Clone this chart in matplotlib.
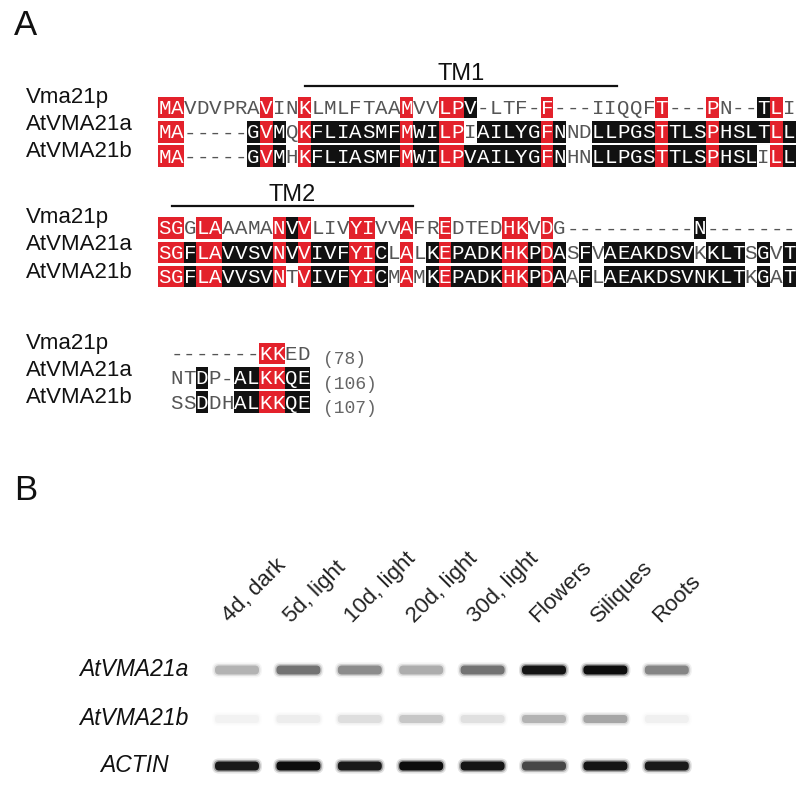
import numpy as np
import matplotlib.pyplot as plt
from matplotlib.patches import Rectangle, FancyBboxPatch

# ---- panel A: alignment data ----
names = ['Vma21p', 'AtVMA21a', 'AtVMA21b']
block1 = ['MAVDVPRAVINKLMLFTAAMVVLPV-LTF-F---IIQQFT---PN--TLI',
          'MA-----GVMQKFLIASMFMWILPIAILYGFNNDLLPGSTTLSPHSLTLL',
          'MA-----GVMHKFLIASMFMWILPVAILYGFNHNLLPGSTTLSPHSLILL']
block2 = ['SGGLAAAMANVVLIVYIVVAFREDTEDHKVDG----------N-------',
          'SGFLAVVSVNVVIVFYICLALKEPADKHKPDASFVAEAKDSVKKLTSGVT',
          'SGFLAVVSVNTVIVFYICMAMKEPADKHKPDAAFLAEAKDSVNKLTKGAT']
block3 = ['-------KKED',
          'NTDP-ALKKQE',
          'SSDDHALKKQE']
lengths = ['(78)', '(106)', '(107)']
tm_labels = ['TM1', 'TM2']
tm_spans = [(11.5, 36.0), (1.1, 20.0)]   # in alignment columns

# ---- panel B: RT-PCR data ----
samples = ['4d, dark', '5d, light', '10d, light', '20d, light',
           '30d, light', 'Flowers', 'Siliques', 'Roots']
genes = ['AtVMA21a', 'AtVMA21b', 'ACTIN']
vma21a = [0.30, 0.55, 0.45, 0.32, 0.55, 0.92, 0.95, 0.48]
vma21b = [0.05, 0.07, 0.13, 0.22, 0.12, 0.30, 0.35, 0.06]
actin = [0.90, 0.95, 0.90, 0.95, 0.92, 0.72, 0.92, 0.90]

RED = '#e3212b'
BLK = '#111111'
mono = 'Liberation Mono'
sans = 'Liberation Sans'

fig = plt.figure(figsize=(8.0, 7.87), dpi=100)
ax = fig.add_axes([0, 0, 1, 1])
ax.set_xlim(0, 800)
ax.set_ylim(787, 0)
ax.axis('off')

colw = 12.75
rowh = 24.3
cellh = 21.5


def draw_block(seqs, x0, y0, lab_y0, tail=None):
    ncol = len(seqs[0])
    for j in range(ncol):
        col = [s[j] for s in seqs]
        for r, c in enumerate(col):
            yc = y0 + r * rowh
            xl = x0 + j * colw
            n = sum(1 for o in col if o == c) if c != '-' else 0
            if n == 3:
                ax.add_patch(Rectangle((xl, yc - cellh / 2), colw, cellh,
                                       facecolor=RED, lw=0))
                tc = 'white'
            elif n == 2:
                ax.add_patch(Rectangle((xl, yc - cellh / 2), colw, cellh,
                                       facecolor=BLK, lw=0))
                tc = 'white'
            else:
                tc = '#555555'
            ax.text(xl + colw / 2, yc + 6.5, c, ha='center', va='baseline',
                    fontsize=15, family=mono, color=tc)
    for r, nm in enumerate(names):
        ax.text(26, lab_y0 + r * 27, nm, ha='left', va='baseline',
                fontsize=16, family=sans, color='#111111')
    if tail is not None:
        for r, t in enumerate(tail):
            ax.text(x0 + ncol * colw + 13, y0 + r * rowh + 11, t,
                    ha='left', va='baseline', fontsize=13, family=mono,
                    color='#666666')


draw_block(block1, 158, 107.5, 103)
draw_block(block2, 158, 228, 223.5)
draw_block(block3, 170, 353.5, 349, tail=lengths)

# transmembrane bars
for lab, (c0, c1), yrow in zip(tm_labels, tm_spans, [107.5, 228]):
    xa, xb = 158 + c0 * colw, 158 + c1 * colw
    ax.plot([xa, xb], [yrow - 22, yrow - 22], color='#111111', lw=1.6)
    ax.text((xa + xb) / 2, yrow - 27, lab, ha='center', va='baseline',
            fontsize=17, family=sans, color='#111111')

ax.text(14, 35, 'A', fontsize=25, family=sans, va='baseline', color='#111111')
ax.text(14, 500, 'B', fontsize=25, family=sans, va='baseline', color='#111111')

# ---- gel ----
lane_x = 237 + 61.4 * np.arange(len(samples))
band_y = [670, 719, 766]
band_h = [9, 8, 9]
for lab, lx in zip(samples, lane_x):
    ax.text(lx - 7, 623, lab, rotation=45, rotation_mode='anchor',
            ha='left', va='baseline', fontsize=16, family=sans,
            color='#222222')

for g, (gname, vals) in enumerate(zip(genes, [vma21a, vma21b, actin])):
    ax.text(134, band_y[g] + 6, gname, ha='center', va='baseline',
            fontsize=16.5, family=sans, style='italic', color='#111111')
    for lx, v in zip(lane_x, vals):
        shade = str(1 - v)
        for grow, alpha in [(6, 0.12), (3, 0.3), (0, 1.0)]:
            w = 44 + grow
            h = band_h[g] + grow
            ax.add_patch(FancyBboxPatch((lx - w / 2, band_y[g] - h / 2), w, h,
                                        boxstyle='round,pad=0,rounding_size=%g' % (h / 2.2),
                                        facecolor=shade, edgecolor='none',
                                        alpha=alpha))

fig.savefig('out.png', dpi=100)
